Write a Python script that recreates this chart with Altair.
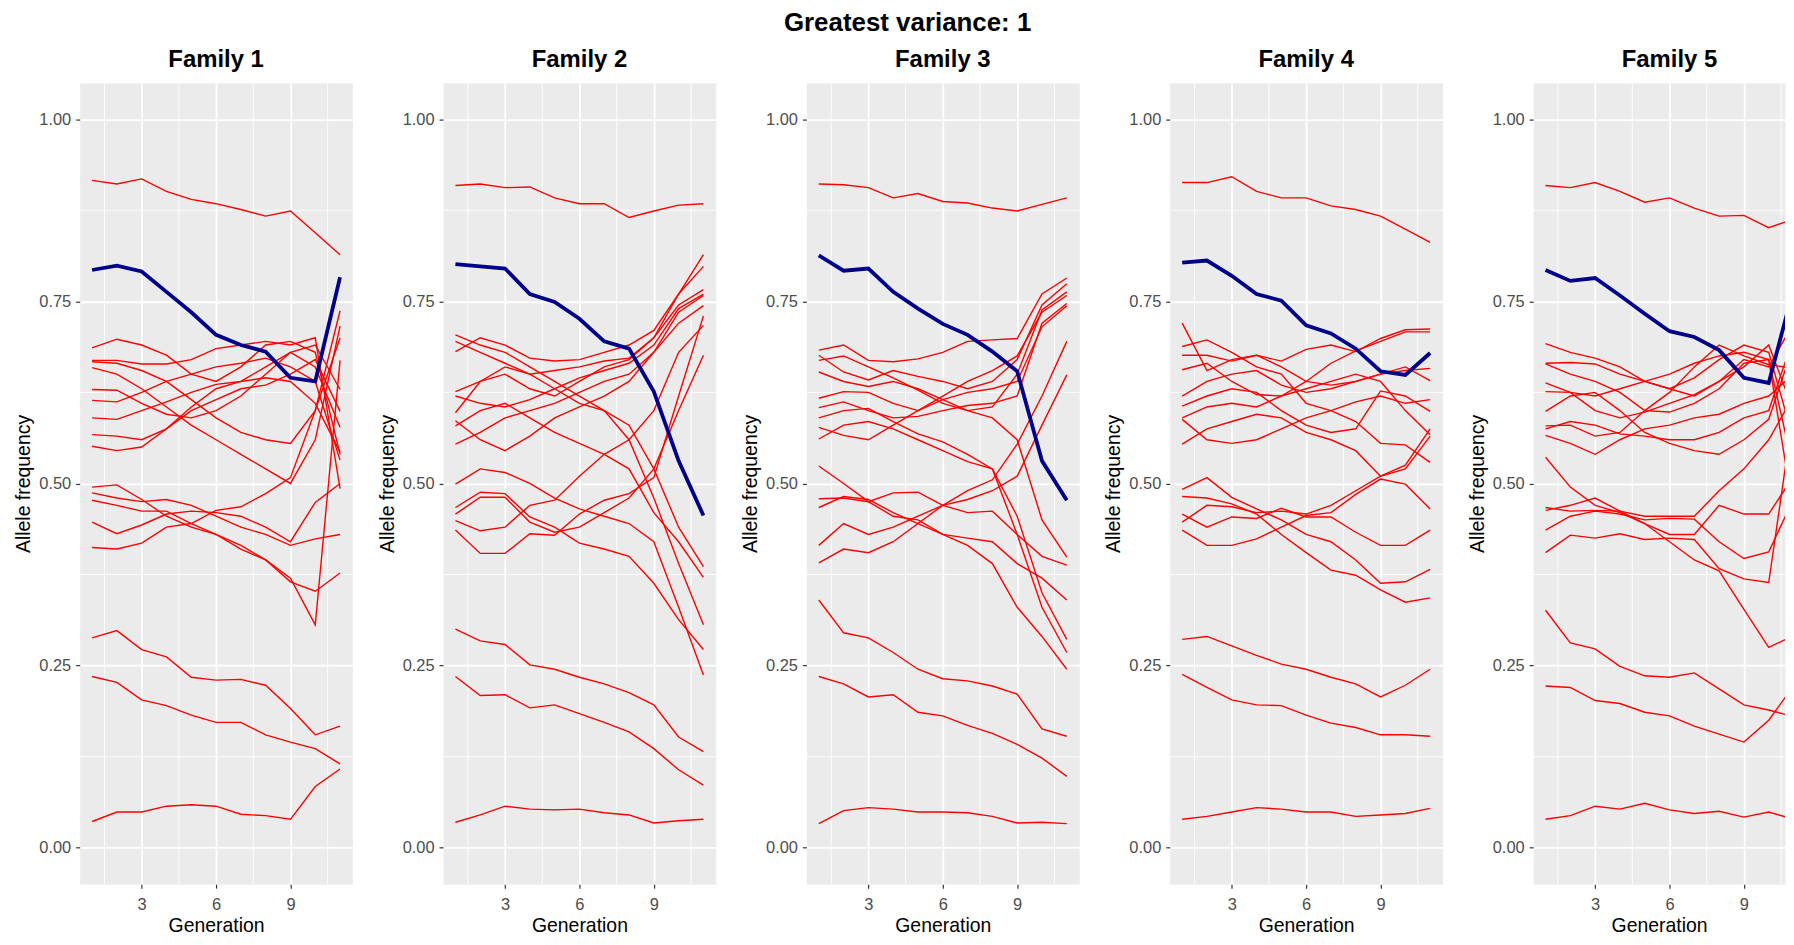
import altair as alt
import pandas as pd

FONT = "Liberation Sans"

generations = list(range(1, 12))
family_names = ["Family 1", "Family 2", "Family 3", "Family 4", "Family 5"]
x_tick_values = [3, 6, 9]
y_tick_values = [0.0, 0.25, 0.5, 0.75, 1.0]
x_minor_breaks = [1.5, 4.5, 7.5, 10.5]
y_minor_breaks = [0.125, 0.375, 0.625, 0.875]

fam1_blue = [0.793, 0.799, 0.791, 0.763, 0.735, 0.704, 0.690, 0.681, 0.645, 0.640, 0.783]
fam1_red = [
    [0.916, 0.911, 0.918, 0.901, 0.890, 0.884, 0.876, 0.867, 0.874, 0.844, 0.814],
    [0.686, 0.698, 0.690, 0.676, 0.650, 0.640, 0.660, 0.690, 0.695, 0.680, 0.540],
    [0.669, 0.669, 0.664, 0.664, 0.670, 0.685, 0.690, 0.695, 0.690, 0.700, 0.493],
    [0.667, 0.665, 0.655, 0.640, 0.615, 0.590, 0.570, 0.560, 0.555, 0.600, 0.737],
    [0.659, 0.650, 0.630, 0.605, 0.580, 0.560, 0.540, 0.520, 0.500, 0.560, 0.716],
    [0.629, 0.628, 0.610, 0.595, 0.590, 0.600, 0.620, 0.650, 0.680, 0.660, 0.577],
    [0.614, 0.612, 0.625, 0.640, 0.650, 0.660, 0.665, 0.672, 0.660, 0.640, 0.532],
    [0.590, 0.588, 0.600, 0.612, 0.625, 0.636, 0.640, 0.645, 0.640, 0.610, 0.543],
    [0.567, 0.565, 0.560, 0.575, 0.600, 0.615, 0.630, 0.635, 0.650, 0.670, 0.599],
    [0.551, 0.545, 0.550, 0.575, 0.605, 0.630, 0.640, 0.660, 0.680, 0.690, 0.629],
    [0.495, 0.498, 0.478, 0.455, 0.440, 0.430, 0.410, 0.395, 0.365, 0.352, 0.377],
    [0.487, 0.480, 0.475, 0.478, 0.470, 0.455, 0.440, 0.430, 0.415, 0.424, 0.430],
    [0.477, 0.470, 0.462, 0.462, 0.445, 0.430, 0.415, 0.395, 0.370, 0.306, 0.669],
    [0.447, 0.431, 0.443, 0.458, 0.462, 0.460, 0.455, 0.440, 0.420, 0.474, 0.500],
    [0.412, 0.410, 0.418, 0.440, 0.445, 0.463, 0.468, 0.486, 0.508, 0.600, 0.700],
    [0.288, 0.298, 0.272, 0.262, 0.234, 0.230, 0.231, 0.223, 0.191, 0.155, 0.167],
    [0.235, 0.227, 0.203, 0.195, 0.182, 0.172, 0.172, 0.155, 0.145, 0.136, 0.115],
    [0.036, 0.049, 0.049, 0.057, 0.059, 0.057, 0.046, 0.044, 0.039, 0.084, 0.108],
]

fam2_blue = [0.801, 0.798, 0.795, 0.760, 0.749, 0.726, 0.695, 0.685, 0.626, 0.531, 0.456]
fam2_red = [
    [0.909, 0.911, 0.906, 0.907, 0.892, 0.884, 0.884, 0.865, 0.874, 0.882, 0.884],
    [0.704, 0.690, 0.680, 0.660, 0.640, 0.620, 0.600, 0.580, 0.520, 0.440, 0.386],
    [0.695, 0.680, 0.665, 0.650, 0.655, 0.660, 0.668, 0.672, 0.700, 0.760, 0.814],
    [0.681, 0.700, 0.690, 0.672, 0.668, 0.670, 0.680, 0.690, 0.710, 0.760, 0.798],
    [0.626, 0.640, 0.650, 0.630, 0.620, 0.640, 0.660, 0.670, 0.700, 0.745, 0.766],
    [0.620, 0.610, 0.605, 0.615, 0.630, 0.645, 0.655, 0.665, 0.690, 0.740, 0.760],
    [0.597, 0.640, 0.660, 0.650, 0.630, 0.610, 0.600, 0.560, 0.480, 0.390, 0.306],
    [0.586, 0.560, 0.545, 0.565, 0.590, 0.605, 0.620, 0.640, 0.680, 0.735, 0.758],
    [0.579, 0.600, 0.610, 0.590, 0.570, 0.555, 0.540, 0.520, 0.460, 0.420, 0.371],
    [0.554, 0.570, 0.590, 0.600, 0.610, 0.625, 0.640, 0.650, 0.680, 0.720, 0.744],
    [0.499, 0.520, 0.515, 0.500, 0.480, 0.465, 0.455, 0.445, 0.420, 0.330, 0.237],
    [0.467, 0.488, 0.486, 0.454, 0.440, 0.418, 0.410, 0.400, 0.363, 0.313, 0.272],
    [0.458, 0.481, 0.481, 0.447, 0.433, 0.440, 0.460, 0.480, 0.520, 0.600, 0.676],
    [0.449, 0.435, 0.440, 0.470, 0.477, 0.510, 0.540, 0.560, 0.600, 0.680, 0.717],
    [0.436, 0.404, 0.404, 0.431, 0.429, 0.458, 0.477, 0.486, 0.508, 0.620, 0.730],
    [0.300, 0.284, 0.279, 0.251, 0.245, 0.234, 0.225, 0.213, 0.196, 0.152, 0.132],
    [0.235, 0.209, 0.210, 0.192, 0.196, 0.184, 0.172, 0.159, 0.136, 0.107, 0.086],
    [0.035, 0.045, 0.057, 0.053, 0.052, 0.053, 0.048, 0.045, 0.034, 0.037, 0.039],
]

fam3_blue = [0.813, 0.792, 0.795, 0.763, 0.740, 0.719, 0.704, 0.681, 0.654, 0.531, 0.477]
fam3_red = [
    [0.911, 0.910, 0.906, 0.892, 0.898, 0.887, 0.885, 0.878, 0.874, 0.883, 0.892],
    [0.683, 0.690, 0.669, 0.667, 0.671, 0.680, 0.695, 0.697, 0.699, 0.760, 0.782],
    [0.676, 0.653, 0.642, 0.655, 0.647, 0.640, 0.630, 0.640, 0.670, 0.745, 0.774],
    [0.669, 0.675, 0.660, 0.645, 0.628, 0.610, 0.600, 0.605, 0.650, 0.738, 0.763],
    [0.653, 0.640, 0.633, 0.640, 0.630, 0.615, 0.600, 0.590, 0.560, 0.450, 0.399],
    [0.617, 0.626, 0.625, 0.610, 0.600, 0.620, 0.640, 0.655, 0.675, 0.735, 0.758],
    [0.604, 0.612, 0.600, 0.590, 0.592, 0.600, 0.607, 0.610, 0.620, 0.720, 0.747],
    [0.590, 0.600, 0.603, 0.585, 0.568, 0.557, 0.540, 0.520, 0.455, 0.350, 0.286],
    [0.577, 0.566, 0.560, 0.580, 0.600, 0.615, 0.625, 0.630, 0.640, 0.715, 0.744],
    [0.561, 0.580, 0.585, 0.575, 0.560, 0.545, 0.530, 0.520, 0.430, 0.330, 0.268],
    [0.524, 0.500, 0.475, 0.455, 0.450, 0.430, 0.415, 0.390, 0.330, 0.290, 0.245],
    [0.479, 0.480, 0.475, 0.487, 0.488, 0.470, 0.460, 0.462, 0.430, 0.400, 0.388],
    [0.467, 0.482, 0.478, 0.460, 0.445, 0.430, 0.425, 0.420, 0.390, 0.370, 0.340],
    [0.415, 0.445, 0.430, 0.440, 0.455, 0.470, 0.490, 0.505, 0.554, 0.620, 0.695],
    [0.391, 0.410, 0.405, 0.420, 0.445, 0.470, 0.478, 0.490, 0.510, 0.580, 0.649],
    [0.340, 0.295, 0.288, 0.268, 0.245, 0.232, 0.229, 0.222, 0.211, 0.163, 0.153],
    [0.235, 0.225, 0.207, 0.210, 0.186, 0.181, 0.168, 0.157, 0.142, 0.123, 0.098],
    [0.033, 0.051, 0.055, 0.053, 0.049, 0.049, 0.048, 0.043, 0.034, 0.035, 0.033],
]

fam4_blue = [0.803, 0.806, 0.785, 0.760, 0.751, 0.717, 0.706, 0.685, 0.654, 0.649, 0.679]
fam4_red = [
    [0.913, 0.913, 0.921, 0.901, 0.892, 0.892, 0.881, 0.876, 0.867, 0.849, 0.831],
    [0.720, 0.655, 0.670, 0.676, 0.660, 0.640, 0.635, 0.640, 0.650, 0.655, 0.658],
    [0.688, 0.697, 0.680, 0.660, 0.650, 0.610, 0.600, 0.585, 0.555, 0.553, 0.529],
    [0.676, 0.676, 0.668, 0.676, 0.668, 0.684, 0.690, 0.681, 0.699, 0.711, 0.712],
    [0.656, 0.665, 0.640, 0.622, 0.620, 0.640, 0.665, 0.682, 0.695, 0.708, 0.708],
    [0.620, 0.640, 0.650, 0.655, 0.635, 0.625, 0.630, 0.640, 0.650, 0.660, 0.641],
    [0.606, 0.620, 0.630, 0.625, 0.600, 0.580, 0.570, 0.575, 0.627, 0.620, 0.599],
    [0.590, 0.605, 0.610, 0.605, 0.620, 0.630, 0.640, 0.650, 0.640, 0.600, 0.567],
    [0.588, 0.560, 0.555, 0.560, 0.575, 0.590, 0.600, 0.612, 0.620, 0.610, 0.615],
    [0.554, 0.575, 0.585, 0.595, 0.590, 0.570, 0.560, 0.545, 0.510, 0.520, 0.565],
    [0.492, 0.508, 0.481, 0.465, 0.450, 0.430, 0.420, 0.395, 0.363, 0.365, 0.382],
    [0.482, 0.480, 0.472, 0.458, 0.430, 0.405, 0.381, 0.374, 0.354, 0.337, 0.343],
    [0.458, 0.440, 0.454, 0.452, 0.466, 0.454, 0.454, 0.433, 0.415, 0.415, 0.436],
    [0.447, 0.470, 0.468, 0.460, 0.462, 0.458, 0.470, 0.490, 0.510, 0.525, 0.575],
    [0.436, 0.415, 0.415, 0.424, 0.440, 0.456, 0.460, 0.485, 0.506, 0.499, 0.465],
    [0.286, 0.290, 0.277, 0.264, 0.252, 0.245, 0.234, 0.225, 0.207, 0.223, 0.245],
    [0.238, 0.220, 0.203, 0.196, 0.195, 0.182, 0.171, 0.165, 0.155, 0.155, 0.153],
    [0.039, 0.043, 0.049, 0.055, 0.053, 0.049, 0.049, 0.043, 0.045, 0.047, 0.054],
]

fam5_blue = [0.793, 0.778, 0.782, 0.758, 0.733, 0.709, 0.701, 0.683, 0.645, 0.638, 0.767]
fam5_red = [
    [0.909, 0.906, 0.913, 0.901, 0.886, 0.892, 0.878, 0.867, 0.868, 0.851, 0.863],
    [0.692, 0.680, 0.672, 0.660, 0.640, 0.630, 0.645, 0.670, 0.690, 0.680, 0.560],
    [0.665, 0.666, 0.664, 0.650, 0.640, 0.630, 0.620, 0.640, 0.660, 0.690, 0.600],
    [0.664, 0.650, 0.640, 0.625, 0.600, 0.598, 0.610, 0.630, 0.665, 0.670, 0.520],
    [0.638, 0.625, 0.620, 0.630, 0.640, 0.650, 0.665, 0.675, 0.680, 0.670, 0.460],
    [0.626, 0.625, 0.600, 0.590, 0.598, 0.610, 0.622, 0.640, 0.670, 0.660, 0.720],
    [0.599, 0.620, 0.625, 0.600, 0.570, 0.555, 0.545, 0.540, 0.560, 0.588, 0.690],
    [0.579, 0.580, 0.565, 0.570, 0.600, 0.625, 0.660, 0.690, 0.675, 0.663, 0.658],
    [0.575, 0.585, 0.580, 0.568, 0.565, 0.560, 0.560, 0.570, 0.590, 0.600, 0.700],
    [0.566, 0.555, 0.540, 0.560, 0.575, 0.580, 0.590, 0.595, 0.610, 0.620, 0.650],
    [0.536, 0.495, 0.470, 0.460, 0.445, 0.420, 0.395, 0.380, 0.327, 0.275, 0.291],
    [0.467, 0.462, 0.463, 0.462, 0.455, 0.455, 0.455, 0.490, 0.520, 0.560, 0.620],
    [0.463, 0.470, 0.480, 0.462, 0.445, 0.430, 0.430, 0.470, 0.458, 0.458, 0.510],
    [0.436, 0.455, 0.462, 0.458, 0.450, 0.452, 0.451, 0.420, 0.397, 0.406, 0.479],
    [0.405, 0.429, 0.425, 0.431, 0.423, 0.425, 0.423, 0.383, 0.369, 0.364, 0.600],
    [0.326, 0.281, 0.273, 0.249, 0.236, 0.234, 0.240, 0.218, 0.196, 0.189, 0.180],
    [0.222, 0.220, 0.202, 0.198, 0.186, 0.181, 0.167, 0.156, 0.145, 0.175, 0.222],
    [0.039, 0.044, 0.057, 0.053, 0.061, 0.052, 0.047, 0.050, 0.042, 0.049, 0.039],
]

red_sets = [fam1_red, fam2_red, fam3_red, fam4_red, fam5_red]
blue_sets = [fam1_blue, fam2_blue, fam3_blue, fam4_blue, fam5_blue]

rows = []
for fam, reds in zip(family_names, red_sets):
    for i, series in enumerate(reds):
        for g, v in zip(generations, series):
            rows.append({"family": fam, "line": f"r{i}", "generation": g, "value": v})
for fam, blue in zip(family_names, blue_sets):
    for g, v in zip(generations, blue):
        rows.append({"family": fam, "line": "blue", "generation": g, "value": v})
df = pd.DataFrame(rows)

minor_x_df = pd.DataFrame({"generation": x_minor_breaks})
minor_y_df = pd.DataFrame({"value": y_minor_breaks})

W, H = 274, 805
PX_PER_GEN = W / 11.0
# the last panel is cut by the right edge of the page, as in the reference
W_LAST = 253

y_scale = alt.Scale(domain=[-0.05, 1.05], nice=False, zero=False)
y_axis = alt.Axis(values=y_tick_values, format=".2f", title="Allele frequency",
                  grid=True, labelPadding=5, titlePadding=5)
Y = alt.Y("value:Q", scale=y_scale, axis=y_axis)


def panel(fam, width):
    xmax = 0.5 + width / PX_PER_GEN
    X = alt.X("generation:Q",
              scale=alt.Scale(domain=[0.5, xmax], nice=False, zero=False),
              axis=alt.Axis(values=x_tick_values, format="d", title="Generation",
                            grid=True, labelPadding=8, titlePadding=4))
    d = df[df["family"] == fam]
    reds = d[d["line"] != "blue"]
    blues = d[d["line"] == "blue"]
    minor_v = alt.Chart(minor_x_df).mark_rule(color="white", strokeWidth=0.9, clip=True).encode(
        x=X, y=alt.value(0), y2=alt.value(H))
    minor_h = alt.Chart(minor_y_df).mark_rule(color="white", strokeWidth=0.9).encode(
        y=Y, x=alt.value(0), x2=alt.value(width))
    red_lines = alt.Chart(reds).mark_line(color="#FF0000", strokeWidth=1.4, clip=True).encode(
        x=X, y=Y, detail="line:N")
    blue_line = alt.Chart(blues).mark_line(color="#00008B", strokeWidth=3.8, clip=True).encode(
        x=X, y=Y, detail="line:N")
    return alt.layer(minor_v, minor_h, red_lines, blue_line).properties(
        width=width, height=H,
        title=alt.TitleParams(text=fam, fontSize=24, fontWeight="bold", font=FONT,
                              color="black", anchor="middle", frame="group", offset=11,
                              dx=(W - width) / 2),
    )


panels = [panel(f, W if i < 4 else W_LAST) for i, f in enumerate(family_names)]

chart = alt.hconcat(*panels, spacing=23).properties(
    title=alt.TitleParams(text="Greatest variance: 1", fontSize=26, fontWeight="bold",
                          font=FONT, color="black", anchor="middle", offset=11, dx=8),
    padding={"left": 5, "top": 0, "right": 0, "bottom": -1},
    background="white",
).configure_view(
    fill="#EBEBEB", stroke="transparent"
).configure_axis(
    domain=False, tickColor="#333333", tickSize=4, tickWidth=1.2,
    gridColor="white", gridWidth=1.8,
    labelColor="#4D4D4D", labelFontSize=16.5, labelFont=FONT,
    titleColor="black", titleFontSize=19.5, titleFont=FONT, titleFontWeight="normal",
)

chart.save("out.html", embed_options={"renderer": "svg", "actions": False})
